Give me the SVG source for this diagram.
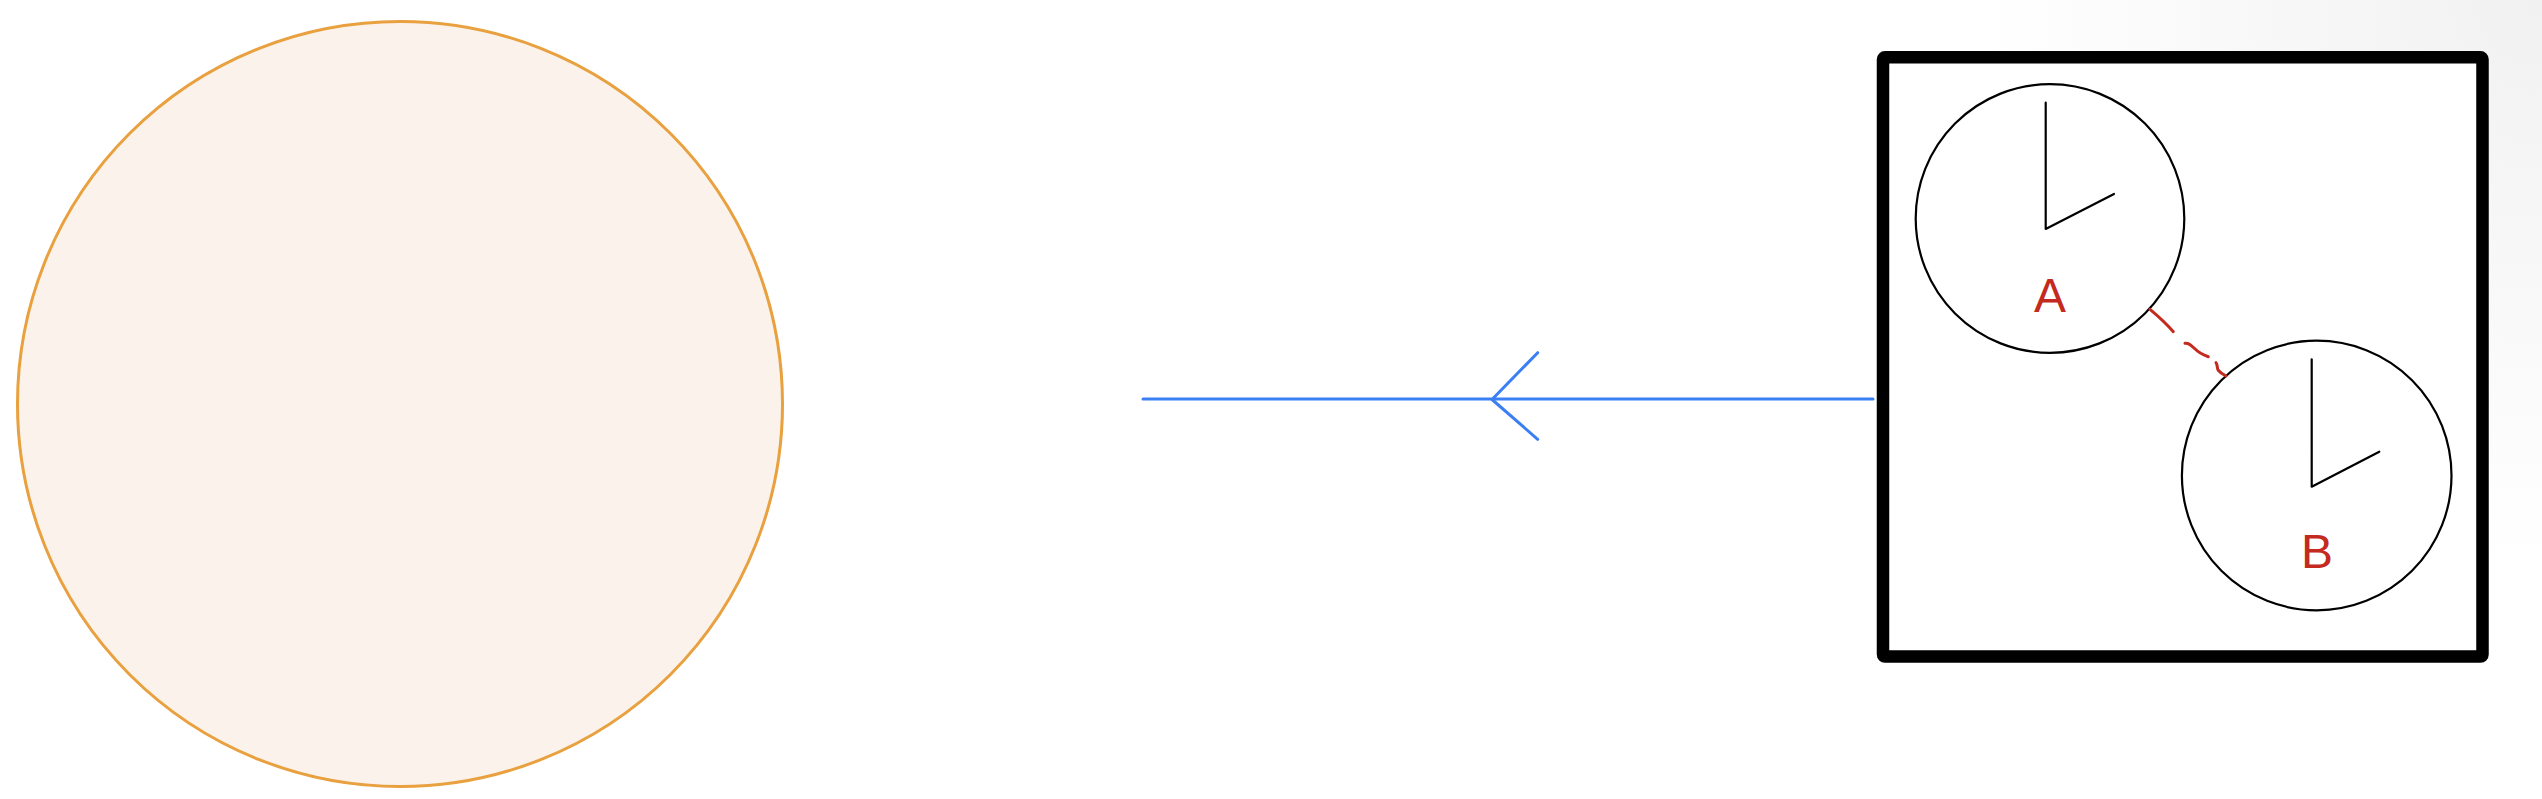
<svg xmlns="http://www.w3.org/2000/svg" width="2542" height="799" viewBox="0 0 2542 799">
  <defs>
    <radialGradient id="bgShade" cx="2542" cy="0" r="560" gradientUnits="userSpaceOnUse">
      <stop offset="0" stop-color="#f1f1f1"/>
      <stop offset="0.5" stop-color="#f8f8f8"/>
      <stop offset="1" stop-color="#ffffff"/>
    </radialGradient>
  </defs>
  <style>
    .clock-face { fill: #ffffff; stroke: #000000; stroke-width: 2.2; }
    .clock-hands { fill: none; stroke: #000000; stroke-width: 2.2; stroke-linecap: round; stroke-linejoin: round; }
    .clock-label { font-family: "Liberation Sans", Arial, sans-serif; font-size: 48px; fill: #c42a1e; text-anchor: middle; }
    .frame { fill: #ffffff; stroke: #000000; stroke-width: 12.5; stroke-linejoin: round; }
    .arrow { fill: none; stroke: #3b7ff4; stroke-width: 3; stroke-linecap: round; stroke-linejoin: round; }
    .link { fill: none; stroke: #c42a1e; stroke-width: 3; stroke-linecap: round; stroke-linejoin: round; }
  </style>
  <rect x="0" y="0" width="2542" height="799" fill="#ffffff"/>
  <rect x="1900" y="0" width="642" height="560" fill="url(#bgShade)"/>

  <g id="sun">
    <circle cx="400" cy="404" r="382.5" fill="#fbf3eb" stroke="#e9a03f" stroke-width="3"/>
  </g>

  <g id="frame">
    <rect class="frame" x="1883" y="57.3" width="599.5" height="599.3" rx="2"/>
  </g>

  <g id="clock-a">
    <circle class="clock-face" cx="2050" cy="218.5" r="134.3"/>
    <path class="clock-hands" d="M2045.7,102.7 L2045.7,229 L2114,194"/>
    <text class="clock-label" x="2050" y="312">A</text>
  </g>

  <g id="clock-b">
    <circle class="clock-face" cx="2316.7" cy="475.5" r="134.8"/>
    <path class="clock-hands" d="M2311.7,359.3 L2311.7,486.7 L2379.3,451.7"/>
    <text class="clock-label" x="2317" y="568">B</text>
  </g>

  <g id="connectors">
    <path class="arrow" d="M1873,399 L1143,399"/>
    <path class="arrow" d="M1537.7,352.7 L1492,399.5 L1537.7,439.3"/>
    <path class="link" d="M2150,309.3 C2158,316 2166,323 2173.3,331.7 M2185,343.3 C2189,343 2191,345 2194,348 C2198,352 2203,355 2208.3,356.7 M2216,362.7 C2218,365 2216.5,368 2218.5,370.5 C2220.5,373 2223.5,374.5 2226,376"/>
  </g>
</svg>
